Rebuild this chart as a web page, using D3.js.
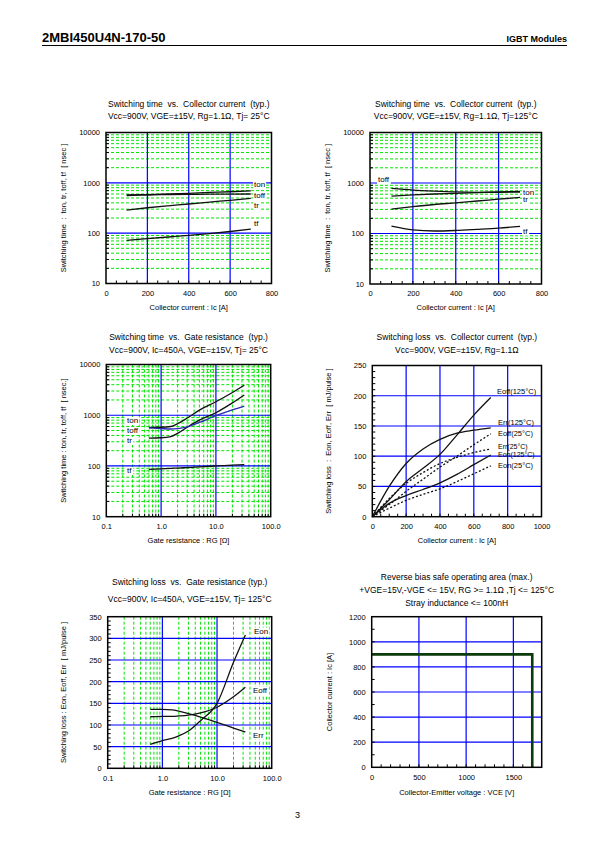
<!DOCTYPE html>
<html><head><meta charset="utf-8">
<script src="https://cdn.jsdelivr.net/npm/d3@7"></script>
<style>
body{margin:0;background:#fff}
text{font-family:"Liberation Sans",Arial,sans-serif;fill:#000;white-space:pre}
</style>
</head><body>
<svg id="c" width="595" height="842" xmlns="http://www.w3.org/2000/svg"></svg>
<script>
// ---------------- DATA ----------------
// Switching time vs collector current
const icPts   = [100,200,300,400,500,600,700];
const ton25   = [560,580,600,620,645,665,690];
const toff25  = [575,580,585,590,595,598,600];
const tr25    = [288,320,350,380,415,450,490];
const tf25    = [72,78,84,90,98,108,120];
const ton125  = [550,580,605,625,645,665,681];
const toff125 = [780,725,690,665,655,655,660];
const tr125   = [304,340,375,405,440,478,518];
const tf125   = [140,118,112,115,121,128,138];
// Switching time vs gate resistance
const rgPts   = [0.6,1,1.5,2,3,5,10,20,33];
const tonRg   = [575,580,600,680,880,1260,1840,2800,3900];
const toffRg  = [560,545,535,545,590,720,980,1280,1520];
const trRg    = [355,360,380,440,580,800,1120,1750,2500];
const tfRg    = [86,88,90,91,93,96,100,104,106];
// Switching loss vs collector current
const icLoss  = [0,100,200,300,400,500,600,700];
const eoff125 = [0,28,58,80,103,135,168,197];
const err125  = [0,50,88,112,128,138,143,147];
const eoff25  = [0,20,42,62,82,100,119,137];
const err25   = [0,30,55,73,88,98,106,112];
const eon125  = [0,22,35,45,56,70,86,102];
const eon25   = [0,14,27,37,46,58,71,84];
// Switching loss vs gate resistance
const eonRg   = [55,64,69,75,86,110,150,245,308];
const eoffRg  = [119,120,120,121,123,128,141,165,187];
const errRg   = [136,136,135,132,126,118,106,93,84];
// RBSOA
const vceSoa  = [0,1700,1700];
const icSoa   = [900,900,0];

// tick labels
const icTicks   = [0,200,400,600,800];
const timeTicks = [10,100,1000,10000];
const rgTicks   = [0.1,1,10,100];
const lossIcX   = [0,200,400,600,800,1000];
const lossIcY   = [0,50,100,150,200,250];
const lossRgY   = [0,50,100,150,200,250,300,350];
const soaX      = [0,500,1000,1500];
const soaY      = [0,200,400,600,800,1000,1200];

// ---------------- DRAW ----------------
const svg = d3.select("#c");
const GREEN = "#00e600", BLUE = "#0000ff";

function txt(g, x, y, s, size, anchor, extra) {
  const t = g.append("text").attr("x", x).attr("y", y).attr("font-size", size)
    .attr("text-anchor", anchor || "start").attr("xml:space", "preserve").text(s);
  if (extra) extra(t);
  return t;
}

function logMinors(lo, hi) {
  const out = [];
  for (let d = lo; d < hi * 0.99; d *= 10) for (let k = 2; k <= 9; k++) out.push(+(d * k).toPrecision(6));
  return out;
}
function range(a, b, s) { const o = []; for (let v = a; v <= b + 1e-9; v += s) o.push(+v.toFixed(6)); return o; }

function panel(p) {
  const g = svg.append("g");
  const x = (p.xLog ? d3.scaleLog() : d3.scaleLinear()).domain(p.xDom).range([p.l, p.r]);
  const y = (p.yLog ? d3.scaleLog() : d3.scaleLinear()).domain(p.yDom).range([p.b, p.t]);
  // green minor grid
  g.selectAll(".gx").data(p.xGreen || []).join("line")
    .attr("x1", d => x(d)).attr("x2", d => x(d)).attr("y1", p.t).attr("y2", p.b)
    .attr("stroke", GREEN).attr("stroke-width", 1).attr("stroke-dasharray", "3,2");
  g.selectAll(".gy").data(p.yGreen || []).join("line")
    .attr("y1", d => y(d)).attr("y2", d => y(d)).attr("x1", p.l).attr("x2", p.r)
    .attr("stroke", GREEN).attr("stroke-width", 1).attr("stroke-dasharray", "3,2");
  // blue major grid
  g.selectAll(".bx").data(p.xBlue || []).join("line")
    .attr("x1", d => x(d)).attr("x2", d => x(d)).attr("y1", p.t).attr("y2", p.b)
    .attr("stroke", BLUE).attr("stroke-width", 1.2);
  g.selectAll(".by").data(p.yBlue || []).join("line")
    .attr("y1", d => y(d)).attr("y2", d => y(d)).attr("x1", p.l).attr("x2", p.r)
    .attr("stroke", BLUE).attr("stroke-width", 1.2);
  // minor ticks
  g.selectAll(".tx").data(p.xMinor || []).join("line")
    .attr("x1", d => x(d)).attr("x2", d => x(d)).attr("y1", p.b).attr("y2", p.b - 3)
    .attr("stroke", "#000").attr("stroke-width", 1);
  g.selectAll(".ty").data(p.yMinor || []).join("line")
    .attr("y1", d => y(d)).attr("y2", d => y(d)).attr("x1", p.l).attr("x2", p.l + 3)
    .attr("stroke", "#000").attr("stroke-width", 1);
  // axes labels
  const ax = g.append("g").attr("transform", `translate(0,${p.b})`)
    .call(d3.axisBottom(x).tickValues(p.xTicks).tickSize(0).tickPadding(7).tickFormat(p.xFmt || (d => d)));
  ax.select(".domain").remove();
  ax.selectAll("text").attr("font-size", 7.5).attr("fill", "#000");
  const ay = g.append("g").attr("transform", `translate(${p.l},0)`)
    .call(d3.axisLeft(y).tickValues(p.yTicks).tickSize(0).tickPadding(6).tickFormat(p.yFmt || (d => d)));
  ay.select(".domain").remove();
  ay.selectAll("text").attr("font-size", 7.5).attr("fill", "#000");
  [ax, ay].forEach(a => a.attr("font-family", "Liberation Sans, Arial, sans-serif"));
  // series
  const line = d3.line().x(d => x(d[0])).y(d => y(d[1])).curve(d3.curveMonotoneX);
  const lineLin = d3.line().x(d => x(d[0])).y(d => y(d[1]));
  (p.series || []).forEach(s => {
    const pts = s.xs.map((v, i) => [v, s.ys[i]]);
    g.append("path").attr("d", s.linear ? lineLin(pts) : line(pts))
      .attr("fill", "none").attr("stroke", s.color || "#111")
      .attr("stroke-width", s.w || 1.3).attr("stroke-dasharray", s.dash || null);
  });
  // frame
  g.append("rect").attr("x", p.l).attr("y", p.t).attr("width", p.r - p.l).attr("height", p.b - p.t)
    .attr("fill", "none").attr("stroke", "#000").attr("stroke-width", 1.5);
  // labels in plot
  (p.labels || []).forEach(lb => {
    const t = txt(g, lb.x, lb.y, lb.s, lb.size || 8, "start");
    if (lb.bg) {
      const bb = t.node().getBBox();
      g.insert("rect", () => t.node()).attr("x", bb.x - 1).attr("y", bb.y + 1).attr("width", bb.width + 2)
        .attr("height", bb.height - 1).attr("fill", "#fff");
    }
  });
  // titles
  p.titles.forEach((s, i) => txt(svg, (p.l + p.r) / 2 + (p.tdx || 0), p.ty + i * p.tdy, s, 8.5, "middle"));
  txt(svg, (p.l + p.r) / 2, p.xty, p.xTitle, 7.5, "middle");
  txt(svg, 0, 0, p.yTitle, 7.5, "middle", t => t.attr("transform", `translate(${p.ytx},${(p.t + p.b) / 2}) rotate(-90)`));
  return {x, y};
}

// header
txt(svg, 42, 42, "2MBI450U4N-170-50", 13, "start", t => t.attr("font-weight", "bold"));
txt(svg, 567, 42, "IGBT Modules", 9, "end", t => t.attr("font-weight", "bold"));
svg.append("line").attr("x1", 42).attr("x2", 567).attr("y1", 45.5).attr("y2", 45.5).attr("stroke", "#000").attr("stroke-width", 1);
txt(svg, 297.5, 818, "3", 9, "middle");

const logFmt = d => d3.format("d")(d);
const rgFmt = d => d3.format(".1f")(d);

// Chart 1
panel({
  l: 106, r: 271.5, t: 132.5, b: 283.5,
  xDom: [0, 800], yLog: true, yDom: [10, 10000],
  xBlue: [200, 400, 600], yBlue: [100, 1000], yGreen: logMinors(10, 10000),
  xMinor: range(50, 750, 50), yMinor: logMinors(10, 10000),
  xTicks: icTicks, yTicks: timeTicks, yFmt: logFmt,
  series: [
    {xs: icPts, ys: ton25}, {xs: icPts, ys: toff25}, {xs: icPts, ys: tr25}, {xs: icPts, ys: tf25}
  ],
  labels: [
    {x: 254, y: 187, s: "ton", bg: true}, {x: 254, y: 198, s: "toff", bg: true},
    {x: 254, y: 208, s: "tr", bg: true}, {x: 254, y: 226, s: "tf", bg: true}
  ],
  titles: ["Switching time  vs.  Collector current  (typ.)", "Vcc=900V, VGE=±15V, Rg=1.1Ω, Tj= 25°C"],
  ty: 106.5, tdy: 12.5,
  xTitle: "Collector current : Ic [A]", xty: 310,
  yTitle: "Switching time  :  ton, tr, toff, tf  [ nsec ]", ytx: 66
});

// Chart 2
panel({
  l: 370, r: 541.5, t: 132.5, b: 284,
  xDom: [0, 800], yLog: true, yDom: [10, 10000],
  xBlue: [200, 400, 600], yBlue: [100, 1000], yGreen: logMinors(10, 10000),
  xMinor: range(50, 750, 50), yMinor: logMinors(10, 10000),
  xTicks: icTicks, yTicks: timeTicks, yFmt: logFmt,
  series: [
    {xs: icPts, ys: ton125}, {xs: icPts, ys: toff125}, {xs: icPts, ys: tr125}, {xs: icPts, ys: tf125}
  ],
  labels: [
    {x: 378, y: 182, s: "toff", bg: true}, {x: 523, y: 194.5, s: "ton", bg: true},
    {x: 523, y: 202, s: "tr", bg: true}, {x: 523, y: 233.5, s: "tf", bg: true}
  ],
  titles: ["Switching time  vs.  Collector current  (typ.)", "Vcc=900V, VGE=±15V, Rg=1.1Ω, Tj=125°C"],
  ty: 106.5, tdy: 12.5,
  xTitle: "Collector current : Ic [A]", xty: 310,
  yTitle: "Switching time  :  ton, tr, toff, tf  [ nsec ]", ytx: 330
});

// Chart 3
panel({
  l: 106.3, r: 270.7, t: 364.5, b: 516.7,
  xLog: true, xDom: [0.1, 100], yLog: true, yDom: [10, 10000],
  xBlue: [1, 10], yBlue: [100, 1000], xGreen: logMinors(0.1, 100), yGreen: logMinors(10, 10000),
  xMinor: logMinors(0.1, 100), yMinor: logMinors(10, 10000),
  xTicks: rgTicks, xFmt: rgFmt, yTicks: timeTicks, yFmt: logFmt,
  series: [
    {xs: rgPts, ys: tonRg}, {xs: rgPts, ys: trRg}, {xs: rgPts, ys: toffRg, color: "#2a2ab0"}, {xs: rgPts, ys: tfRg}
  ],
  labels: [
    {x: 127, y: 423, s: "ton", bg: true}, {x: 127, y: 433, s: "toff", bg: true},
    {x: 127, y: 443, s: "tr", bg: true}, {x: 127, y: 473, s: "tf", bg: true}
  ],
  titles: ["Switching time  vs.  Gate resistance  (typ.)", "Vcc=900V, Ic=450A, VGE=±15V, Tj= 25°C"],
  ty: 340, tdy: 12.5,
  xTitle: "Gate resistance : RG [Ω]", xty: 543,
  yTitle: "Switching time : ton, tr, toff, tf  [ nsec.]", ytx: 66
});

// Chart 4
panel({
  l: 372.3, r: 541.5, t: 365.5, b: 516.7,
  xDom: [0, 1000], yDom: [0, 250],
  xBlue: [200, 400, 600, 800], yBlue: [50, 100, 150, 200],
  xMinor: range(50, 950, 50), yMinor: range(10, 240, 10),
  xTicks: lossIcX, yTicks: lossIcY,
  series: [
    {xs: icLoss, ys: eoff125}, {xs: icLoss, ys: err125},
    {xs: icLoss, ys: eoff25, dash: "2,2"}, {xs: icLoss, ys: err25, dash: "2,2"},
    {xs: icLoss, ys: eon125}, {xs: icLoss, ys: eon25, dash: "2,2"}
  ],
  labels: [
    {x: 497, y: 393.5, s: "Eoff(125°C)", size: 7.5}, {x: 498, y: 425, s: "Err(125°C)", size: 7.5},
    {x: 498, y: 435.5, s: "Eoff(25°C)", size: 7.5}, {x: 498, y: 448.5, s: "Err(25°C)", size: 7},
    {x: 498, y: 457, s: "Eon(125°C)", size: 7}, {x: 498, y: 468, s: "Eon(25°C)", size: 7.5}
  ],
  titles: ["Switching loss  vs.  Collector current  (typ.)", "Vcc=900V, VGE=±15V, Rg=1.1Ω"],
  ty: 340, tdy: 12.5,
  xTitle: "Collector current : Ic [A]", xty: 543,
  yTitle: "Switching loss  :  Eon, Eoff, Err  [ mJ/pulse ]", ytx: 331
});

// Chart 5
panel({
  l: 107.7, r: 271.7, t: 616.7, b: 768.3,
  xLog: true, xDom: [0.1, 100], yDom: [0, 350],
  xBlue: [1, 10], yBlue: [50, 100, 150, 200, 250, 300], xGreen: logMinors(0.1, 100),
  xMinor: logMinors(0.1, 100), yMinor: range(10, 340, 10),
  xTicks: rgTicks, xFmt: rgFmt, yTicks: lossRgY,
  series: [
    {xs: rgPts, ys: eonRg}, {xs: rgPts, ys: eoffRg}, {xs: rgPts, ys: errRg}
  ],
  labels: [
    {x: 254, y: 633.5, s: "Eon", bg: true}, {x: 253, y: 693, s: "Eoff", bg: true}, {x: 253, y: 737.5, s: "Err", bg: true}
  ],
  titles: ["Switching loss  vs.  Gate resistance (typ.)", "Vcc=900V, Ic=450A, VGE=±15V, Tj= 125°C"],
  ty: 585, tdy: 16.5,
  xTitle: "Gate resistance : RG [Ω]", xty: 795,
  yTitle: "Switching loss : Eon, Eoff, Err  [ mJ/pulse ]", ytx: 66
});

// Chart 6
panel({
  l: 371.7, r: 541.7, t: 616.7, b: 767.3,
  xDom: [0, 1800], yDom: [0, 1200],
  xBlue: [500, 1000, 1500], yBlue: [200, 400, 600, 800, 1000],
  xMinor: range(100, 1700, 100), yMinor: range(100, 1100, 100),
  xTicks: soaX, yTicks: soaY,
  series: [
    {xs: vceSoa, ys: icSoa, color: "#0b3a0b", w: 2.6, linear: true}
  ],
  labels: [],
  titles: ["Reverse bias safe operating area (max.)", "+VGE=15V,-VGE <= 15V, RG >= 1.1Ω ,Tj <= 125°C", "Stray inductance <= 100nH"],
  ty: 580, tdy: 13,
  xTitle: "Collector-Emitter voltage : VCE [V]", xty: 795,
  yTitle: "Collector current : Ic [A]", ytx: 332
});
</script>
</body></html>
